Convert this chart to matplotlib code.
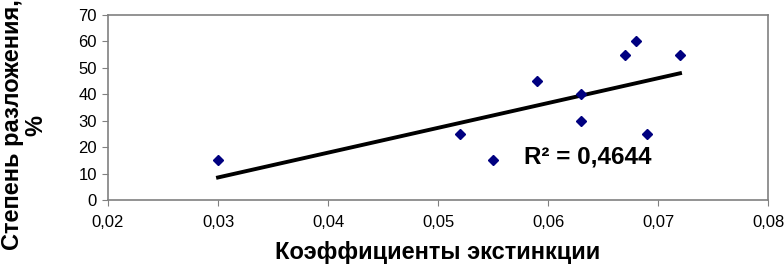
import numpy as np
import matplotlib
matplotlib.use("Agg")
import matplotlib.pyplot as plt

plt.rcParams['font.family'] = ['Liberation Sans', 'DejaVu Sans']

# коэффициенты экстинкции и степень разложения
ext = [0.030, 0.052, 0.055, 0.059, 0.063, 0.063, 0.067, 0.068, 0.069, 0.072]
razl = [15, 25, 15, 45, 40, 30, 55, 60, 25, 55]
xticks = [0.02, 0.03, 0.04, 0.05, 0.06, 0.07, 0.08]
yticks = [0, 10, 20, 30, 40, 50, 60, 70]

x = np.array(ext)
y = np.array(razl)
k, b = np.polyfit(x, y, 1)
r2 = np.corrcoef(x, y)[0, 1] ** 2

fig = plt.figure(figsize=(7.84, 2.66), dpi=100)
ax = fig.add_axes([0.1378, 0.2481, 0.8418, 0.6955])

xs = np.array([x.min(), x.max()])
ax.plot(xs, k * xs + b, color='black', lw=2.8, zorder=2)
ax.plot(x, y, 'D', color='#000080', ms=5.5, zorder=3)

ax.set_xlim(0.02, 0.08)
ax.set_ylim(0, 70)
ax.set_xticks(xticks)
ax.set_xticklabels([('%.2f' % t).replace('.', ',') for t in xticks])
ax.set_yticks(yticks)
ax.tick_params(labelsize=12, direction='out', length=4, color='#808080', pad=4)
ax.tick_params(axis='x', pad=7)
for s in ax.spines.values():
    s.set_color('#808080')
    s.set_linewidth(1.2)

ax.text(0.0636, 16.3, 'R² = ' + ('%.4f' % r2).replace('.', ','),
        fontsize=17.5, fontweight='bold', ha='center', va='center')

ax.set_xlabel('Коэффициенты экстинкции', fontsize=17, fontweight='bold', labelpad=8)
fig.text(0.031, 0.53, 'Степень разложения,\n%', rotation=90, fontsize=17,
         fontweight='bold', ha='center', va='center', linespacing=1.0)

fig.savefig('out.png', dpi=100)
